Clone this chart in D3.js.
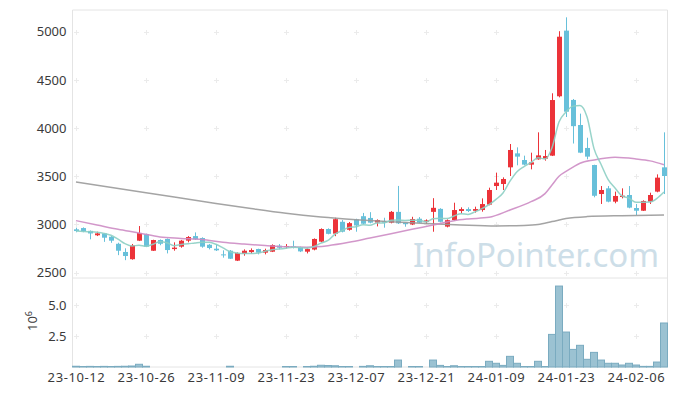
<!DOCTYPE html>
<html>
<head>
<meta charset="utf-8">
<script src="https://cdn.jsdelivr.net/npm/d3@7"></script>
<style>
  html, body { margin: 0; padding: 0; background: #fff; }
  svg { display: block; font-family: "Noto Sans", sans-serif; }
</style>
</head>
<body>
<svg id="chart" width="677" height="396"></svg>
<script>
"use strict";

// ── Data ────────────────────────────────────────────────────────────────────
const dates = [
  "23-10-12","23-10-13","23-10-16","23-10-17","23-10-18","23-10-19","23-10-20","23-10-23","23-10-24","23-10-25",
  "23-10-26","23-10-27","23-10-30","23-10-31","23-11-01","23-11-02","23-11-03","23-11-06","23-11-07","23-11-08",
  "23-11-09","23-11-10","23-11-13","23-11-14","23-11-15","23-11-16","23-11-17","23-11-20","23-11-21","23-11-22",
  "23-11-23","23-11-24","23-11-27","23-11-28","23-11-29","23-11-30","23-12-01","23-12-04","23-12-05","23-12-06",
  "23-12-07","23-12-08","23-12-11","23-12-12","23-12-13","23-12-14","23-12-15","23-12-18","23-12-19","23-12-20",
  "23-12-21","23-12-22","23-12-26","23-12-27","23-12-28","24-01-02","24-01-03","24-01-04","24-01-05","24-01-08",
  "24-01-09","24-01-10","24-01-11","24-01-12","24-01-15","24-01-16","24-01-17","24-01-18","24-01-19","24-01-22",
  "24-01-23","24-01-24","24-01-25","24-01-26","24-01-29","24-01-30","24-01-31","24-02-01","24-02-02","24-02-05",
  "24-02-06","24-02-07","24-02-08","24-02-13","24-02-14"
];

const openPx = [
  2950,2963,2934,2888,2908,2873,2800,2715,2640,2832, 2901,2728,2839,2850,2745,2770,2832,2880,2860,2790,
  2749,2690,2728,2625,2694,2714,2746,2708,2718,2780, 2766,2773,2766,2718,2740,2822,2953,2905,3028,2945,
  3053,3086,3068,3020,3033,3019,3131,3019,3000,3060, 3028,3131,3162,2978,3046,3140,3160,3142,3150,3206,
  3399,3420,3593,3738,3669,3621,3676,3683,3714,4330, 5011,4292,4032,3794,3617,3316,3375,3237,3285,3306,
  3171,3143,3237,3341,3593
];
const highPx = [
  2967,2970,2938,2925,2912,2880,2811,2753,2798,2984, 2905,2842,2845,2855,2815,2840,2880,2918,2867,2797,
  2794,2732,2735,2711,2742,2752,2749,2749,2794,2797, 2797,2832,2770,2752,2856,2960,2960,3070,3046,3026,
  3060,3120,3128,3053,3070,3140,3400,3022,3080,3077, 3053,3273,3169,3053,3226,3178,3178,3185,3271,3382,
  3538,3489,3835,3800,3714,3745,3956,3773,4361,5005, 5149,4302,4150,3900,3620,3399,3399,3341,3375,3399,
  3213,3251,3330,3520,3956
];
const lowPx = [
  2919,2920,2846,2880,2820,2810,2682,2630,2635,2828, 2765,2725,2785,2700,2728,2759,2815,2839,2759,2742,
  2725,2656,2642,2621,2676,2697,2690,2690,2714,2742, 2752,2752,2714,2700,2732,2815,2898,2879,2918,2936,
  2925,3005,3012,2980,2967,3012,3005,2977,2994,3015, 3005,2925,3022,2970,3039,3115,3129,3123,3133,3199,
  3358,3358,3503,3614,3614,3572,3672,3662,3710,4319, 4115,3840,3740,3676,3282,3213,3230,3220,3271,3168,
  3098,3140,3213,3334,3316
];
const closePx = [
  2932,2929,2907,2908,2863,2832,2728,2673,2784,2912, 2770,2839,2800,2735,2760,2832,2870,2846,2770,2756,
  2732,2683,2645,2704,2728,2735,2708,2735,2787,2759, 2777,2763,2721,2745,2850,2953,2903,3055,2925,3014,
  2990,3008,3019,3046,3019,3131,3012,3003,3057,3019, 3043,3173,3028,3045,3150,3160,3140,3160,3212,3358,
  3434,3472,3773,3704,3621,3645,3717,3710,4291,4948, 4170,4020,3745,3704,3298,3358,3237,3296,3299,3175,
  3143,3244,3306,3486,3503
];
// volume, millions of shares
const volume = [
  0.06,0.04,0.05,0.04,0.05,0.04,0.05,0.06,0.08,0.22, 0.06,0,0,0,0,0,0,0,0,0,
  0,0,0.06,0,0,0,0,0,0,0, 0.04,0.04,0,0.04,0.06,0.14,0.12,0.10,0.04,0.04,
  0,0.05,0.10,0.04,0.04,0.04,0.56,0,0.04,0.04, 0,0.56,0.13,0.04,0.10,0.04,0.04,0.04,0.04,0.46,
  0.30,0.13,0.86,0.30,0.04,0.04,0.46,0.04,2.63,6.53, 2.82,1.42,1.75,0.62,1.18,0.56,0.30,0.30,0.16,0.30,
  0.16,0.05,0.05,0.40,3.55
];
// four closes before the first day, for the 5-day average
const priorClose = [2945, 2925, 2935, 2920];

// 20-day and 120-day averages, read at selected days
const ma20Idx = [0,3,6,9,12,15,18,21,24,27,30,33,36,39,42,45,48,51,54,56,59,62,65,67,68,69,70,71,72,74,77,80,82,84];
const ma20Val = [3040,2995,2950,2912,2870,2856,2845,2815,2797,2782,2768,2765,2780,2815,2860,2905,2950,2995,3040,3057,3074,3150,3237,3320,3410,3500,3550,3595,3635,3669,3697,3680,3660,3620];
const ma120Idx = [0,10,20,25,30,35,40,45,50,55,60,64,66,68,70,73,78,84];
const ma120Val = [3440,3330,3218,3165,3116,3078,3050,3028,3010,2995,2985,2990,3000,3030,3062,3082,3092,3098];

const priceTicks = [2500, 3000, 3500, 4000, 4500, 5000];
const volumeTicks = [2.5, 5.0];
const xTickLabels = ["23-10-12","23-10-26","23-11-09","23-11-23","23-12-07","23-12-21","24-01-09","24-01-23","24-02-06"];

// ── Layout ───────────────────────────────────────────────────────────────────
const plot = { left: 72.5, right: 667.5, top: 10, split: 278, bottom: 367 };
const colors = {
  up: "#ec3339", down: "#67c0da",
  ma5: "#8dcfc4", ma20: "#cd8cc4", ma120: "#9a9a9a",
  volFill: "#9bc2d2", volStroke: "#7aabc0",
  grid: "#ebebeb", frame: "#e4e4e4", text: "#3a3a3a", mark: "#cddee8"
};

const svg = d3.select("#chart");
const n = dates.length;

const x = d3.scaleLinear().domain([-0.5, n - 0.5]).range([plot.left, plot.right]);
const yP = d3.scaleLinear().domain([2445, 5225]).range([plot.split, plot.top]);
const yV = d3.scaleLinear().domain([0, 7.18]).range([plot.bottom, plot.split]);

const candles = dates.map((d, i) => ({
  i, date: d, o: openPx[i], h: highPx[i], l: lowPx[i], c: closePx[i], v: volume[i]
}));

const allClose = priorClose.concat(closePx);
const ma5 = closePx.map((c, i) => ({ i, v: d3.mean(allClose.slice(i, i + 5)) }));
const ma20 = ma20Idx.map((i, k) => ({ i, v: ma20Val[k] }));
const ma120 = ma120Idx.map((i, k) => ({ i, v: ma120Val[k] }));

const tickIdx = xTickLabels.map(t => dates.indexOf(t));

// ── Watermark ──
svg.append("text")
  .attr("x", 413).attr("y", 267)
  .attr("font-size", 33)
  .attr("fill", colors.mark)
  .text("InfoPointer.com");

// ── Frames ──
svg.append("path")
  .attr("d", `M${plot.left},${plot.top}H${plot.right}V${plot.bottom}H${plot.left}Z M${plot.left},${plot.split}H${plot.right}`)
  .attr("fill", "none").attr("stroke", colors.frame).attr("stroke-width", 1);

// ── Grid crosses ──
const gridPts = [];
tickIdx.forEach(i => {
  priceTicks.forEach(p => gridPts.push([x(i), yP(p)]));
  volumeTicks.forEach(v => gridPts.push([x(i), yV(v)]));
});
svg.append("g").selectAll("path").data(gridPts).join("path")
  .attr("d", d => `M${Math.round(d[0]) - 2},${Math.round(d[1]) + 0.5}h5M${Math.round(d[0]) + 0.5},${Math.round(d[1]) - 2}v5`)
  .attr("stroke", colors.grid).attr("stroke-width", 1);

// ── Candles ──
const cg = svg.append("g");
cg.selectAll("line").data(candles).join("line")
  .attr("x1", d => Math.round(x(d.i)) + 0.5).attr("x2", d => Math.round(x(d.i)) + 0.5)
  .attr("y1", d => yP(d.h)).attr("y2", d => yP(d.l))
  .attr("stroke", d => d.c >= d.o ? colors.up : colors.down)
  .attr("stroke-width", 1);
cg.selectAll("rect").data(candles).join("rect")
  .attr("x", d => Math.round(x(d.i)) - 2)
  .attr("width", 5)
  .attr("y", d => yP(Math.max(d.o, d.c)))
  .attr("height", d => Math.max(1, Math.abs(yP(d.o) - yP(d.c))))
  .attr("fill", d => d.c >= d.o ? colors.up : colors.down);

// ── Moving averages ──
const line = d3.line().x(d => x(d.i)).y(d => yP(d.v)).curve(d3.curveMonotoneX);
[[ma120, colors.ma120], [ma20, colors.ma20], [ma5, colors.ma5]].forEach(([data, col]) => {
  svg.append("path").datum(data)
    .attr("d", line)
    .attr("fill", "none").attr("stroke", col)
    .attr("stroke-width", 1.5).attr("stroke-opacity", 0.9);
});

// ── Volume ──
svg.append("g").selectAll("rect").data(candles.filter(d => d.v > 0)).join("rect")
  .attr("x", d => x(d.i) - 3.5)
  .attr("width", 7)
  .attr("y", d => yV(d.v))
  .attr("height", d => yV(0) - yV(d.v))
  .attr("fill", colors.volFill)
  .attr("stroke", colors.volStroke).attr("stroke-width", 1);

// ── Axes ──
const styleAxis = g => {
  g.select(".domain").remove();
  g.selectAll("text").attr("fill", colors.text).attr("font-size", 13)
    .attr("font-family", "'Noto Sans', sans-serif");
};

svg.append("g").attr("transform", `translate(${plot.left},0)`)
  .call(d3.axisLeft(yP).tickValues(priceTicks).tickFormat(d3.format("d")).tickSize(0).tickPadding(6))
  .call(styleAxis);

svg.append("g").attr("transform", `translate(${plot.left},0)`)
  .call(d3.axisLeft(yV).tickValues(volumeTicks).tickFormat(d3.format(".1f")).tickSize(0).tickPadding(6))
  .call(styleAxis);

svg.append("g").attr("transform", `translate(0,${plot.bottom})`)
  .call(d3.axisBottom(x).tickValues(tickIdx).tickFormat(i => dates[i]).tickSize(0).tickPadding(6))
  .call(styleAxis)
  .selectAll("text").attr("letter-spacing", 0.6);

// 10^6 multiplier label for the volume axis
const unit = svg.append("text")
  .attr("transform", "translate(37,321) rotate(-90)")
  .attr("text-anchor", "middle")
  .attr("fill", colors.text).attr("font-size", 13);
unit.append("tspan").text("10");
unit.append("tspan").attr("dy", -5).attr("font-size", 9).text("6");
</script>
</body>
</html>
